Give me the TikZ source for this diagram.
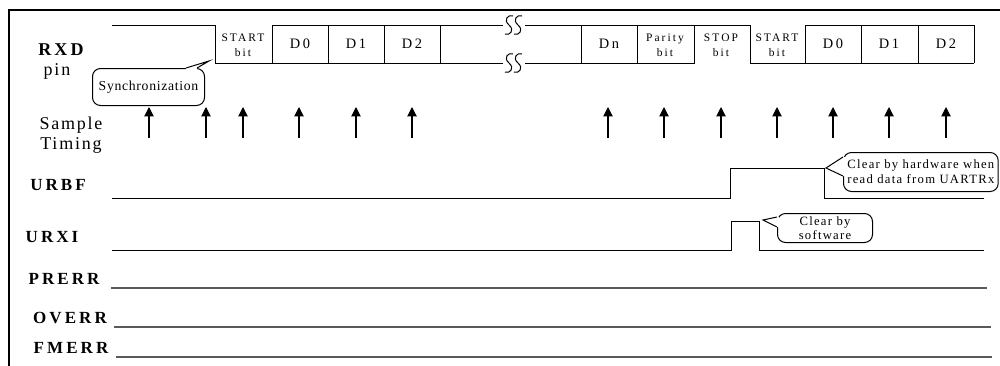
\documentclass[tikz,border=0pt]{standalone}
\usepackage{fontspec}
\setmainfont{Liberation Serif}
\newfontfamily\lsA[LetterSpace=10]{Liberation Serif}
\newfontfamily\lsB[LetterSpace=18]{Liberation Serif}
\newfontfamily\lsC[LetterSpace=5]{Liberation Serif}
\usetikzlibrary{arrows.meta}
\begin{document}
\begin{tikzpicture}[x=0.75pt,y=-0.75pt,line width=0.75pt,
  sig/.style={line width=0.75pt,black},
  errline/.style={line width=1pt,black!65},
  siglabel/.style={font=\lsB\bfseries\fontsize{12.75pt}{14pt}\selectfont,inner sep=0pt},
  plainlabel/.style={font=\lsA\fontsize{13.5pt}{15pt}\selectfont,inner sep=0pt,align=center},
  cell/.style={font=\lsB\fontsize{10.8pt}{12pt}\selectfont,inner sep=0pt},
  smallcell/.style={font=\lsB\fontsize{8.6pt}{11pt}\selectfont,inner sep=0pt,align=center},
  bubble/.style={draw,rounded corners=6pt,fill=white,inner sep=0pt,align=center,anchor=north west},
  sample/.style={-{Triangle[length=7pt,width=7pt]},line width=0.8pt}
]
\useasboundingbox (0,0) rectangle (1000,365);
% frame
\draw[line width=1.5pt] (9,366) -- (9,10) -- (1001,10);

% ---------- labels ----------
\node[siglabel,font=\lsB\bfseries\fontsize{13.5pt}{15pt}\selectfont] (rxd) at (61,50) {RXD};
\node[plainlabel] (pin) at (57,71) {pin};
\node[plainlabel] (samp) at (71,125) {Sample};
\node[plainlabel] (tim) at (71,145) {Timing};
\node[siglabel] (urbf) at (58,185) {URBF};
\node[siglabel] (urxi) at (52,237) {URXI};
\node[siglabel] (prerr) at (64,279) {PRERR};
\node[siglabel] (overr) at (70,318) {OVERR};
\node[siglabel] (fmerr) at (71,348) {FMERR};

% ---------- RXD waveform ----------
\draw[sig] (112,25) -- (215,25) -- (215,63) -- (503,63);
\draw[sig] (272,63) -- (272,25) -- (503,25);
\foreach \x in {328,384,440} \draw[sig] (\x,25) -- (\x,63);
% break marks
\foreach \cy in {25,63}{
  \foreach \cx in {509,518}{
    \draw[sig] (\cx+4,\cy-9) .. controls (\cx-1,\cy-11) and (\cx-6,\cy-5) .. (\cx,\cy)
                .. controls (\cx+6,\cy+5) and (\cx+1,\cy+11) .. (\cx-4,\cy+9);
  }
}
\draw[sig] (525,25) -- (750,25) -- (750,63) -- (974,63);
\draw[sig] (525,63) -- (694,63) -- (694,25);
\draw[sig] (805,63) -- (805,25) -- (974,25) -- (974,63);
\foreach \x in {581,637,861,918} \draw[sig] (\x,25) -- (\x,63);

% cell texts
\node[smallcell] (st1) at (243,45) {START\\bit};
\node[cell] (d0a) at (300,44) {D0};
\node[cell] (d1a) at (356,44) {D1};
\node[cell] (d2a) at (412,44) {D2};
\node[cell] (dn) at (609,44) {Dn};
\node[smallcell] (par) at (665,45) {Parity\\bit};
\node[smallcell] (stop) at (721,45) {STOP\\bit};
\node[smallcell] (st2) at (777,45) {START\\bit};
\node[cell] (d0b) at (833,44) {D0};
\node[cell] (d1b) at (889,44) {D1};
\node[cell] (d2b) at (946,44) {D2};

% ---------- Synchronization bubble ----------
\node[bubble,minimum width=84pt,minimum height=27.75pt,font=\lsC\fontsize{10.3pt}{12pt}\selectfont] (sync) at (92,68) {Synchronization};
\fill[white] (186,70) -- (186,68) -- (209,61) -- (197,68) -- (197,70) -- cycle;
\draw[sig] (186,68) -- (209,61) -- (197,68);

% ---------- sample arrows ----------
\foreach \x [count=\i] in {149,206,243,299,356,412,608,664,721,777,833,889,946}{
  \coordinate (sb\i) at (\x,138);
  \coordinate (st\i) at (\x,107);
  \draw[sample] (sb\i) -- (st\i);
}

% ---------- URBF ----------
\draw[sig] (112,198) -- (730,198) -- (730,168) -- (824,168) -- (824,198) -- (984,198);
\node[bubble,minimum width=116pt,minimum height=29.25pt,font=\lsA\fontsize{9.5pt}{11.2pt}\selectfont] (hw) at (843,152) {Clear by hardware when\\read data from UARTRx};
\fill[white] (845,157) -- (843,157) -- (826,168) -- (843,176) -- (845,176) -- cycle;
\draw[sig] (843,157) -- (826,168) -- (843,176);

% ---------- URXI ----------
\draw[sig] (112,250) -- (731,250) -- (731,221) -- (759,221) -- (759,250) -- (984,250);
\node[bubble,minimum width=71.25pt,minimum height=21.75pt,font=\lsA\fontsize{9.5pt}{10.5pt}\selectfont] (sw) at (777,213) {Clear by\\software};
\fill[white] (779,217) -- (777,217) -- (763,220) -- (777,227) -- (779,227) -- cycle;
\draw[sig] (777,217) -- (763,220) -- (777,227);

% ---------- error lines ----------
\draw[errline] (111,288) -- (987,288);
\draw[errline] (114,327) -- (991,327);
\draw[errline] (116,357) -- (992,357);
\end{tikzpicture}
\end{document}
